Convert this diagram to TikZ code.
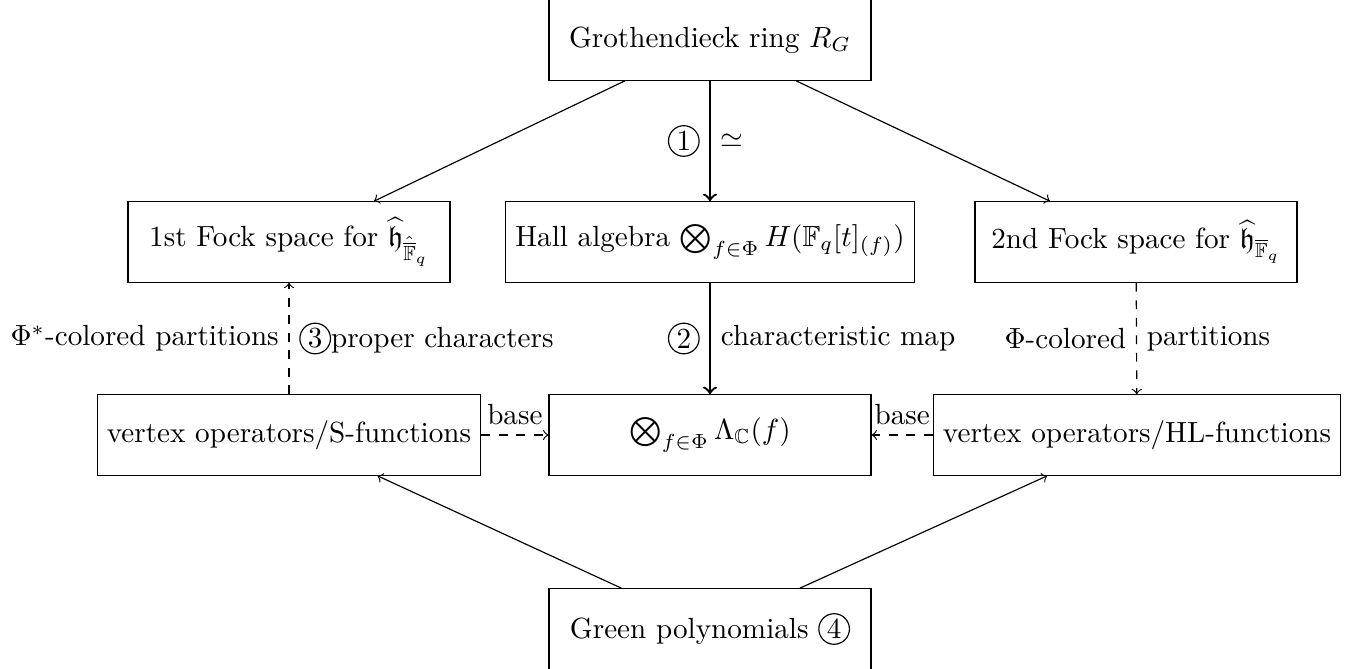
\documentclass[tikz,border=0pt]{standalone}
\usepackage{amsmath,amssymb}
\newcommand\cnum[1]{\tikz[baseline=(cn.base)]\node[circle,draw,line width=0.4pt,inner sep=0pt,minimum size=10.5pt](cn){#1};}
\begin{document}
\begin{tikzpicture}[x=0.343pt,y=-0.343pt,
  box/.style={draw,minimum width=110.5pt,minimum height=27.6pt},
  thinarr/.style={->},
  mainarr/.style={->,thick},
  dsharr/.style={->,dashed}]
\useasboundingbox (0,0) rectangle (1363,669);
\node[box] (R) at (710,40) {Grothendieck ring $R_G$};
\node[box] (F1) at (289,242) {1st Fock space for $\widehat{\mathfrak{h}}_{\hat{\overline{\mathbb{F}}}_q}$};
\node[box] (H) at (710,242) {Hall algebra $\bigotimes_{f\in\Phi} H(\mathbb{F}_q[t]_{(f)})$};
\node[box] (F2) at (1136,242) {2nd Fock space for $\widehat{\mathfrak{h}}_{\overline{\mathbb{F}}_q}$};
\node[box] (VS) at (289,435) {vertex operators/S-functions};
\node[box] (L) at (710,435) {$\bigotimes_{f\in\Phi}\Lambda_{\mathbb{C}}(f)$};
\node[box] (VH) at (1137,435) {vertex operators/HL-functions};
\node[box] (G) at (710,629) {Green polynomials \cnum{4}};
\draw[thinarr] (R) -- (F1);
\draw[thinarr] (R) -- (F2);
\draw[mainarr] (R) -- node[left]{\cnum{1}} node[right]{$\simeq$} (H);
\draw[mainarr] (H) -- node[left]{\cnum{2}} node[right]{characteristic map} (L);
\draw[dsharr] (VS) -- node[left]{$\Phi^*$-colored partitions} node[right]{\cnum{3}proper characters} (F1);
\draw[dsharr] (F2) -- node[left]{$\Phi$-colored} node[right]{partitions} (VH);
\draw[dsharr] (VS) -- node[above]{base} (L);
\draw[dsharr] (VH) -- node[above]{base} (L);
\draw[thinarr] (G) -- (VS);
\draw[thinarr] (G) -- (VH);
\end{tikzpicture}
\end{document}
